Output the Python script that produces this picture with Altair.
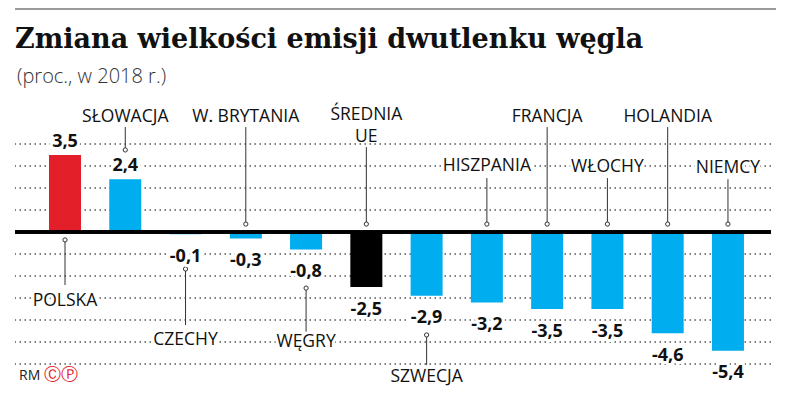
import altair as alt
import pandas as pd

# --- data ---
countries = ["POLSKA", "SŁOWACJA", "CZECHY", "W. BRYTANIA", "WĘGRY", "ŚREDNIA\nUE",
             "SZWECJA", "HISZPANIA", "FRANCJA", "WŁOCHY", "HOLANDIA", "NIEMCY"]
values = [3.5, 2.4, -0.1, -0.3, -0.8, -2.5, -2.9, -3.2, -3.5, -3.5, -4.6, -5.4]
groups = ["Polska", "kraj", "kraj", "kraj", "kraj", "UE",
          "kraj", "kraj", "kraj", "kraj", "kraj", "kraj"]

# annotation placement (in value units): label centre, leader line far end, leader line dot
label_level = [-3.14, 5.25, -4.9, 5.25, -5.0, 5.34, -6.61, 2.98, 5.25, 2.96, 5.25, 2.9]
line_far = [-2.41, 4.77, -4.23, 4.77, -4.55, 3.86, -6.05, 2.45, 4.77, 2.45, 4.77, 2.4]
line_dot = [-0.36, 3.73, -1.68, 0.36, -2.55, 0.36, -4.68, 0.36, 0.36, 0.36, 0.36, 0.36]

grid_values = list(range(-6, 5))
title_text = "Zmiana wielkości emisji dwutlenku węgla"
subtitle_text = "(proc., w 2018 r.)"

df = pd.DataFrame({
    "kraj": countries,
    "wartosc": values,
    "grupa": groups,
    "etykieta": [f"{v:.1f}".replace(".", ",") for v in values],
    "poziom": label_level,
    "linia1": line_far,
    "linia2": line_dot,
})
grid_df = pd.DataFrame({"g": grid_values})

W, H = 756, 286
x_enc = alt.X("kraj:N", sort=countries, title=None, axis=None,
              scale=alt.Scale(paddingInner=0.469, paddingOuter=0.5065, align=0.557, round=False))
y_scale = alt.Scale(domain=[-7, 6], nice=False, zero=False)
y_axis = alt.Axis(labels=False, ticks=False, domain=False, grid=False, title=None)

base = alt.Chart(df)

grid = alt.Chart(grid_df).mark_rule(color="#555", strokeWidth=1.3, strokeDash=[1.5, 3.5]).encode(
    y=alt.Y("g:Q", scale=y_scale, axis=y_axis))

bars = base.mark_bar(size=32).encode(
    x=x_enc,
    y=alt.Y("wartosc:Q", scale=y_scale, axis=y_axis),
    color=alt.Color("grupa:N", legend=None,
                    scale=alt.Scale(domain=["Polska", "kraj", "UE"],
                                    range=["#E3202A", "#00ADEF", "#000000"])),
)

zero_line = base.mark_rule(color="black", strokeWidth=2.6).encode(y=alt.datum(0))

leaders = base.mark_rule(color="#333", strokeWidth=1).encode(
    x=x_enc, y=alt.Y("linia1:Q", axis=y_axis), y2="linia2:Q")

dots = base.mark_point(shape="circle", filled=True, fill="white", stroke="#333",
                       strokeWidth=1, size=18, opacity=1).encode(
    x=x_enc, y=alt.Y("linia2:Q", axis=y_axis))

def names(halo):
    kw = dict(stroke="white", strokeWidth=6, strokeJoin="round") if halo else {}
    src = base.transform_filter("indexof(datum.kraj, '\\n') < 0") if halo else base
    return src.mark_text(font="Open Sans", fontSize=17.5, align="center", baseline="middle",
                         lineBreak="\n", lineHeight=22, color="#111", **kw).encode(
        x=x_enc, y=alt.Y("poziom:Q", axis=y_axis), text="kraj:N")

def vals(halo, positive):
    kw = dict(stroke="white", strokeWidth=6, strokeJoin="round") if halo else {}
    return base.transform_filter(
        alt.datum.wartosc > 0 if positive else alt.datum.wartosc < 0
    ).mark_text(font="Open Sans", fontSize=18, fontWeight="bold", align="center",
                baseline="alphabetic", dy=-8 if positive else 27.5, color="#111", **kw).encode(
        x=x_enc, y=alt.Y("wartosc:Q", axis=y_axis), text="etykieta:N")

title_df = pd.DataFrame({"t": [title_text]})
sub_df = pd.DataFrame({"t": [subtitle_text]})

title = alt.Chart(title_df).mark_text(font="DejaVu Serif", fontWeight="bold", fontSize=27,
                                      align="left", baseline="alphabetic", color="#111").encode(
    x=alt.value(0), y=alt.value(-52), text="t:N")
subtitle = alt.Chart(sub_df).mark_text(font="Open Sans", fontWeight=300, fontSize=20,
                                       align="left", baseline="alphabetic", color="#333").encode(
    x=alt.value(2), y=alt.value(-17), text="t:N")
top_rule = alt.Chart(title_df).mark_rect(color="#9a9a9a").encode(
    x=alt.value(0), x2=alt.value(761), y=alt.value(-92), y2=alt.value(-90))
logo_rm = alt.Chart(pd.DataFrame({"t": ["RM"]})).mark_text(
    font="Open Sans", fontSize=14, align="left", baseline="middle", color="#222").encode(
    x=alt.value(4), y=alt.value(276), text="t:N")
logo_cp = alt.Chart(pd.DataFrame({"t": ["ⒸⓅ"]})).mark_text(
    font="DejaVu Sans", fontSize=17, align="left", baseline="middle", color="#E3202A").encode(
    x=alt.value(29), y=alt.value(275), text="t:N")

chart = alt.layer(
    grid, bars, zero_line, leaders, dots,
    names(True), names(False),
    vals(True, True), vals(False, True), vals(True, False), vals(False, False),
    title, subtitle, top_rule, logo_rm, logo_cp,
).properties(
    width=W, height=H,
    padding={"left": 7, "top": 92, "right": 9, "bottom": 4},
    autosize=alt.AutoSizeParams(type="none"),
).configure_view(stroke=None)

chart.save("out.html", embed_options={"renderer": "svg", "actions": False})
